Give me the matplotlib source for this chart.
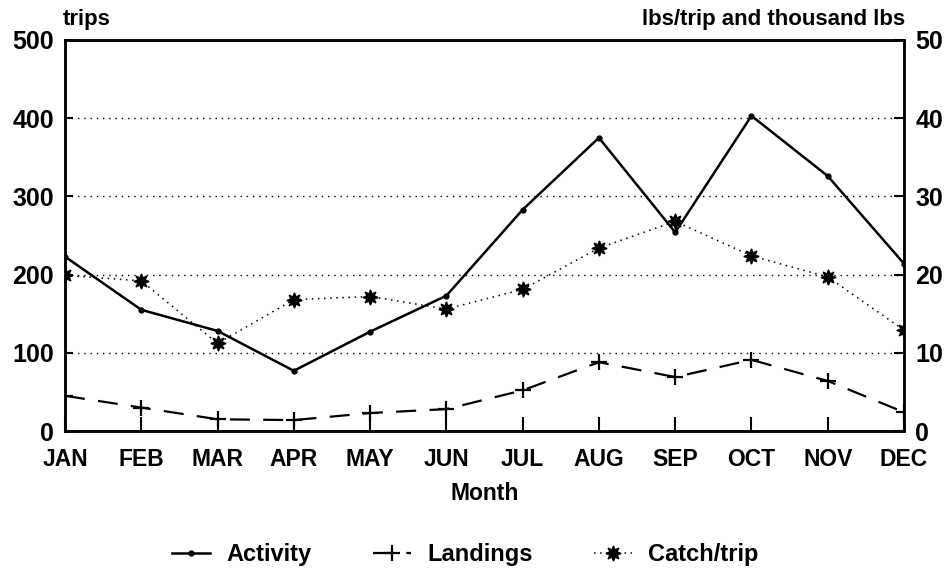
import matplotlib.pyplot as plt
from matplotlib.lines import Line2D

plt.rcParams['font.family'] = ['Liberation Sans', 'DejaVu Sans']
plt.rcParams['font.weight'] = 'bold'
plt.rcParams['axes.labelweight'] = 'bold'

months = ['JAN', 'FEB', 'MAR', 'APR', 'MAY', 'JUN',
          'JUL', 'AUG', 'SEP', 'OCT', 'NOV', 'DEC']
activity = [223, 155, 128, 77, 127, 173, 283, 375, 254, 403, 326, 214]
landings = [4.5, 3.0, 1.5, 1.4, 2.3, 2.8, 5.2, 8.8, 6.9, 9.1, 6.4, 2.4]
catch_trip = [19.9, 19.2, 11.2, 16.8, 17.2, 15.6, 18.1, 23.4, 26.8, 22.4, 19.7, 12.9]

left_ticks = [0, 100, 200, 300, 400, 500]
right_ticks = [0, 10, 20, 30, 40, 50]


def plot_chart():
    fig = plt.figure(figsize=(9.5, 5.76), dpi=100)
    ax = fig.add_axes([0.0684, 0.2517, 0.8832, 0.6789])
    ax2 = ax.twinx()

    x = range(len(months))

    ax.plot(x, activity, color='black', lw=1.8, marker='o', ms=3.5, zorder=3)
    ax2.plot(x, landings, color='black', lw=1.6, ls=(0, (9, 6)), marker='+',
             ms=11, mew=1.6, zorder=3)
    ax2.plot(x, catch_trip, color='black', lw=1.1, ls=(0, (1, 3)),
             marker=(8, 1, 0), ms=11, zorder=3)

    for y in [100, 200, 300, 400]:
        ax.axhline(y, color='black', lw=1.0, ls=(0, (1, 3.5)), zorder=1)

    ax.set_xlim(0, len(months) - 1)
    ax.set_ylim(0, 500)
    ax2.set_ylim(0, 50)

    ax.set_xticks(list(x))
    ax.set_xticklabels(months)
    ax.set_yticks(left_ticks)
    ax2.set_yticks(right_ticks)

    ax.tick_params(axis='x', direction='in', length=10, width=1.5,
                   labelsize=16.5, pad=12)
    ax.tick_params(axis='y', direction='in', length=6, width=1.5,
                   labelsize=18, pad=8)
    ax2.tick_params(axis='y', direction='in', length=7, width=1.5,
                    labelsize=18, pad=8)

    for a in (ax, ax2):
        for s in a.spines.values():
            s.set_linewidth(1.8)

    ax.set_xlabel('Month', fontsize=16.5, labelpad=8)

    fig.text(63 / 950, 1 - 20 / 576, 'trips', fontsize=16,
             ha='left', va='center')
    fig.text(905 / 950, 1 - 20 / 576, 'lbs/trip and thousand lbs',
             fontsize=16, ha='right', va='center')

    handles = [
        Line2D([], [], color='black', lw=1.8, marker='o', ms=3.5),
        Line2D([], [], color='black', lw=1.6, ls=(0, (9, 6)), marker='+',
               ms=11, mew=1.6),
        Line2D([], [], color='black', lw=1.1, ls=(0, (1, 3)),
               marker=(8, 1, 0), ms=11),
    ]
    fig.legend(handles, ['Activity', 'Landings', 'Catch/trip'],
               loc='center', bbox_to_anchor=(0.49, 1 - 555 / 576), ncol=3,
               frameon=False, fontsize=17, handlelength=1.6,
               columnspacing=2.6, handletextpad=0.7)

    fig.savefig('out.png', dpi=100)


plot_chart()
